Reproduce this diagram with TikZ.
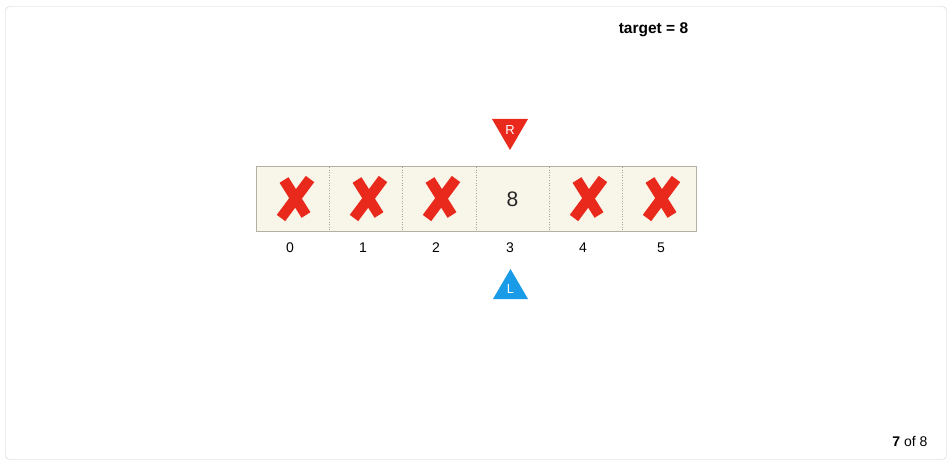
\documentclass[tikz,border=0pt]{standalone}
\usepackage{fontspec}
\setmainfont{Liberation Sans}
\definecolor{cellfill}{HTML}{F8F5E9}
\definecolor{cellborder}{HTML}{B3AFA5}
\definecolor{xred}{HTML}{E8291C}
\definecolor{lblue}{HTML}{1A9BE8}
\definecolor{frame}{HTML}{CFCFCF}
\tikzset{
  idx/.style={font=\fontsize{14}{16}\selectfont, anchor=center},
  cross/.style={xred, line width=10.5pt, line cap=butt},
}
\begin{document}
\begin{tikzpicture}[x=1pt,y=-1pt]
\useasboundingbox (0,0) rectangle (952,465);
\draw[frame, rounded corners=4pt] (5.5,6.5) rectangle (946.5,459.5);
\node[font=\bfseries\fontsize{15.5}{17}\selectfont] (target) at (653.5,30) {target = 8};
\node[font=\fontsize{14}{16}\selectfont, anchor=east] (page) at (931,441) {\textbf{7} of 8};
% array
\draw[cellborder, fill=cellfill, line width=1pt] (256,166.5) rectangle (696,231);
\foreach \x in {329.3,402.7,476,549.3,622.7}
  \draw[gray!70, dotted, line width=0.6pt] (\x,167) -- (\x,230.5);
% cell contents
\node[font=\fontsize{21}{24}\selectfont, text=black!85] (c3) at (512.5,199) {8};
% indices
\foreach \i/\x in {0/290,1/363,2/436,3/510,4/583,5/661}
  \node[idx] (i\i) at (\x,248) {\i};
% crosses
\foreach \cx in {295,368,441,588,661}{
  \draw[cross] (\cx+15,179) -- (\cx-14,218);
  \draw[cross] (\cx-11,180) -- (\cx+11,215);
}
% R pointer
\fill[xred] (492,119) -- (528,119) -- (510,150) -- cycle;
\node[text=white, font=\fontsize{13}{15}\selectfont] (R) at (510,130) {R};
% L pointer
\fill[lblue] (493,299) -- (528,299) -- (510.5,269) -- cycle;
\node[text=white, font=\fontsize{13}{15}\selectfont] (L) at (510.5,289) {L};
\end{tikzpicture}
\end{document}
